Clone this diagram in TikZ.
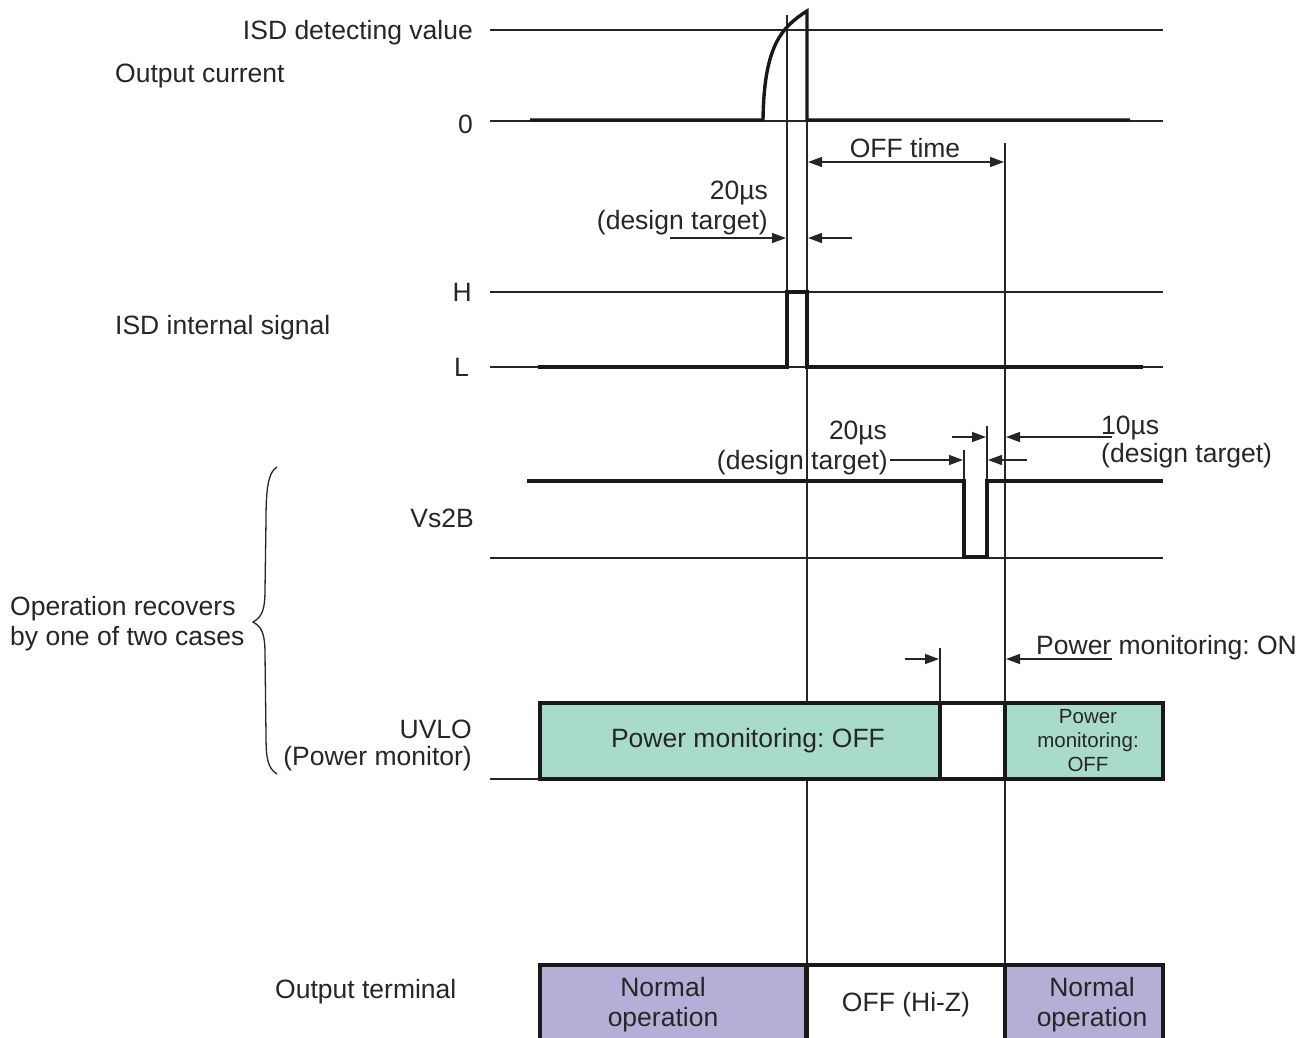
\documentclass[tikz,border=0pt]{standalone}
\usepackage{fontspec}
\setmainfont{Liberation Sans}
\usetikzlibrary{arrows.meta}
\definecolor{uvgreen}{RGB}{168,220,200}
\definecolor{outpurple}{RGB}{181,174,214}
\frenchspacing
\begin{document}
\begin{tikzpicture}[x=1pt,y=-1pt,
 thinln/.style={line width=1.4pt, draw=black!85},
 sigln/.style={line width=3.4pt, draw=black!90, line join=miter},
 dimarr/.style={line width=1.4pt, draw=black!85, -{Triangle[length=14pt,width=10pt]}},
 dimboth/.style={line width=1.4pt, draw=black!85, {Triangle[length=14pt,width=10pt]}-{Triangle[length=14pt,width=10pt]}},
 lbl/.style={font=\fontsize{26.5}{30}\selectfont, inner sep=0pt, text=black!85},
 stbox/.style={draw=black!90, line width=3.4pt, inner sep=0pt, align=center, text=black!85, font=\fontsize{26.5}{30}\selectfont},
]
\useasboundingbox (0,0) rectangle (1314,1037);
\clip (0,0) rectangle (1314,1037);

% ---------- reference (thin) lines ----------
\coordinate (r1a) at (490,30);  \coordinate (r1b) at (1163,30);
\coordinate (r2a) at (490,121); \coordinate (r2b) at (1163,121);
\coordinate (r3a) at (490,292); \coordinate (r3b) at (1163,292);
\coordinate (r4a) at (490,367); \coordinate (r4b) at (1163,367);
\coordinate (r5a) at (490,558); \coordinate (r5b) at (1163,558);
\coordinate (r6a) at (490,779); \coordinate (r6b) at (540,779);
\foreach \i in {1,...,6} \draw[thinln] (r\i a) -- (r\i b);

% ---------- vertical timing lines ----------
\coordinate (v1t) at (787,15);  \coordinate (v1b) at (787,292);
\coordinate (v2t) at (807,11);  \coordinate (v2b) at (807,965);
\coordinate (v3t) at (1005,143); \coordinate (v3b) at (1005,965);
\coordinate (v4t) at (964,450); \coordinate (v4b) at (964,481);
\coordinate (v5t) at (987,426); \coordinate (v5b) at (987,481);
\coordinate (v6t) at (940,648); \coordinate (v6b) at (940,703);
\foreach \i in {1,...,6} \draw[thinln] (v\i t) -- (v\i b);

% ---------- signals ----------
\draw[sigln] (530,120) -- (763,120) .. controls (764,48) and (780,28) .. (807,11) -- (807,120) -- (1130,120);
\draw[sigln] (538,367) -- (787,367) -- (787,292) -- (807,292) -- (807,367) -- (1143,367);
\draw[sigln] (527,481) -- (964,481) -- (964,557) -- (987,557) -- (987,481) -- (1163,481);

% ---------- dimension arrows ----------
\coordinate (a1s) at (670,238);  \coordinate (a1e) at (786,238);
\coordinate (a2s) at (852,238);  \coordinate (a2e) at (808,238);
\coordinate (a3s) at (890,460);  \coordinate (a3e) at (963,460);
\coordinate (a4s) at (952,437);  \coordinate (a4e) at (986,437);
\coordinate (a5s) at (1027,460); \coordinate (a5e) at (988,460);
\coordinate (a6s) at (1112,437); \coordinate (a6e) at (1006,437);
\coordinate (a7s) at (905,659);  \coordinate (a7e) at (939,659);
\coordinate (a8s) at (1112,659); \coordinate (a8e) at (1006,659);
\foreach \i in {1,...,8} \draw[dimarr] (a\i s) -- (a\i e);
\draw[dimboth] (808,162) -- (1004,162);

% ---------- brace ----------
\draw[line width=1.3pt, black!85] (277,467) .. controls (268,472) and (266,490) .. (266,520)
  -- (265,590) .. controls (265,610) and (262,617) .. (253,622)
  .. controls (262,627) and (265,634) .. (265,654)
  -- (266,735) .. controls (266,760) and (268,768) .. (277,774);

% ---------- labels ----------
\node[lbl, anchor=base east] (tISD) at (473,39.5) {ISD detecting value};
\node[lbl, anchor=base west] (tOC) at (115,82.5) {Output current};
\node[lbl, anchor=base east] (t0) at (473,133.5) {0};
\node[lbl, anchor=base] (tOFF) at (905,157.5) {OFF time};
\node[lbl, anchor=base east] (t20a) at (768,199.5) {20µs};
\node[lbl, anchor=base east] (t20b) at (768,229.5) {(design target)};
\node[lbl, anchor=base east] (tH) at (472,301.5) {H};
\node[lbl, anchor=base west] (tISDs) at (115,334.5) {ISD internal signal};
\node[lbl, anchor=base east] (tL) at (469,376.5) {L};
\node[lbl, anchor=base] (t20c) at (858,439.5) {20µs};
\node[lbl, anchor=base east] (t20d) at (888,469.5) {(design target)};
\node[lbl, anchor=base west] (t10a) at (1101,434.5) {10µs};
\node[lbl, anchor=base west] (t10b) at (1101,462.5) {(design target)};
\node[lbl, anchor=base east] (tVs) at (474,527.5) {Vs2B};
\node[lbl, anchor=base west] (tOp1) at (10,615.5) {Operation recovers};
\node[lbl, anchor=base west] (tOp2) at (10,645.5) {by one of two cases};
\node[lbl, anchor=base west] (tPON) at (1036,654.5) {Power monitoring: ON};
\node[lbl, anchor=base east] (tUV1) at (472,738.5) {UVLO};
\node[lbl, anchor=base east] (tUV2) at (472,765.5) {(Power monitor)};
\node[lbl, anchor=base west] (tOT) at (275,998.5) {Output terminal};

% ---------- UVLO boxes ----------
\node[stbox, fill=uvgreen, minimum width=400pt, minimum height=76pt] (uv1) at (740,741) {\hspace*{16pt}Power monitoring: OFF};
\node[stbox, fill=white, minimum width=65pt, minimum height=76pt] (uv2) at (972.5,741) {};
\node[stbox, fill=uvgreen, minimum width=158pt, minimum height=76pt, font=\fontsize{20.5}{24}\selectfont] (uv3) at (1084,741) {\hspace*{8pt}Power\\\hspace*{8pt}monitoring:\\\hspace*{8pt}OFF};

% ---------- output terminal boxes ----------
\node[stbox, fill=outpurple, minimum width=266pt, minimum height=80pt] (ot1) at (673,1005) {Normal\hspace*{20pt}\\operation\hspace*{20pt}};
\node[stbox, fill=white, minimum width=198pt, minimum height=80pt] (ot2) at (906,1005) {OFF (Hi-Z)};
\node[stbox, fill=outpurple, minimum width=158pt, minimum height=80pt] (ot3) at (1084,1005) {\hspace*{16pt}Normal\\\hspace*{16pt}operation};
\end{tikzpicture}
\end{document}
